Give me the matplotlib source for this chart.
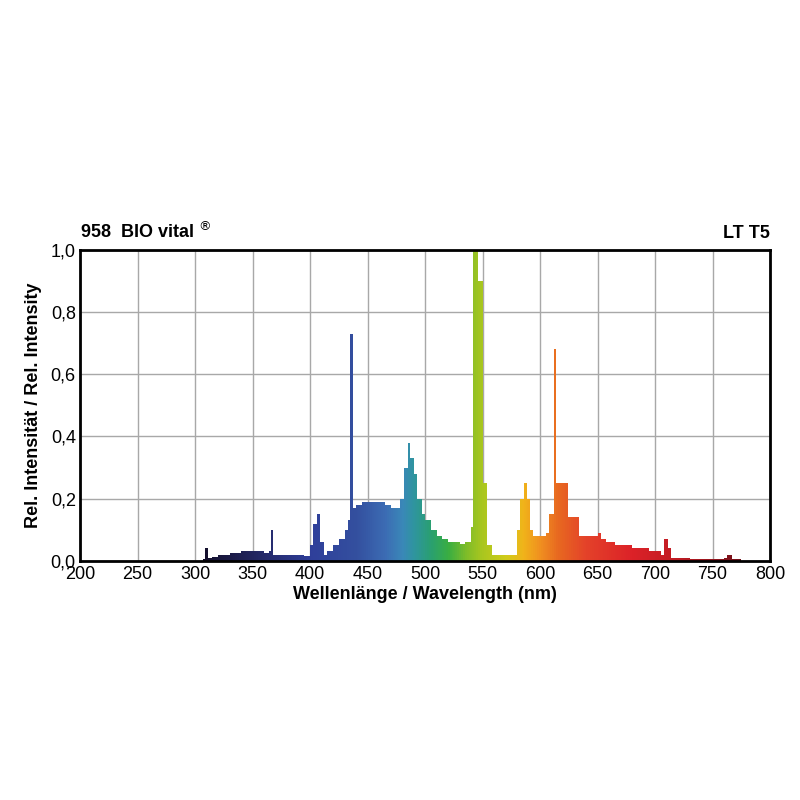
import numpy as np
import matplotlib
matplotlib.use("Agg")
import matplotlib.pyplot as plt
from matplotlib.colors import LinearSegmentedColormap

plt.rcParams["font.family"] = ["Liberation Sans", "DejaVu Sans"]

# spectrum: bin start wavelength (nm) and rel. intensity
wl = [300, 307, 309, 311, 315, 320, 330, 340, 350, 360, 364, 366, 368, 380, 395,
      400, 403, 406, 409, 412, 415, 420, 425, 430, 433, 435, 437, 440, 445, 450,
      455, 460, 465, 470, 475, 478, 482, 485, 487, 490, 493, 497, 500, 505, 510,
      515, 520, 530, 535, 540, 542, 546, 550, 554, 558, 576, 580, 583, 586, 589,
      591, 594, 600, 605, 608, 612, 614, 624, 634, 650, 653, 657, 665, 680, 695,
      705, 708, 711, 714, 730, 760, 763, 767, 775]
val = [0.0, 0.005, 0.04, 0.01, 0.012, 0.018, 0.025, 0.03, 0.03, 0.025, 0.03, 0.1,
       0.02, 0.018, 0.015, 0.05, 0.12, 0.15, 0.06, 0.02, 0.03, 0.05, 0.07, 0.1, 0.13,
       0.73, 0.17, 0.18, 0.19, 0.19, 0.19, 0.19, 0.18, 0.17, 0.17, 0.2, 0.3, 0.38,
       0.33, 0.28, 0.2, 0.15, 0.13, 0.1, 0.08, 0.07, 0.06, 0.055, 0.06, 0.11, 1.0,
       0.9, 0.25, 0.05, 0.02, 0.02, 0.1, 0.2, 0.25, 0.2, 0.1, 0.08, 0.08, 0.09, 0.15,
       0.68, 0.25, 0.14, 0.08, 0.09, 0.07, 0.06, 0.05, 0.04, 0.03, 0.02, 0.07, 0.04,
       0.01, 0.005, 0.01, 0.02, 0.005, 0.0]

x_ticks = [200, 250, 300, 350, 400, 450, 500, 550, 600, 650, 700, 750, 800]
y_ticks = [0.0, 0.2, 0.4, 0.6, 0.8, 1.0]
y_labels = ["0,0", "0,2", "0,4", "0,6", "0,8", "1,0"]

lo, hi = 305, 775
stops = [(305, "#140f2a"), (360, "#252a6a"), (400, "#2f3f9a"), (440, "#34509f"),
         (465, "#3c6cb4"), (480, "#3a88b8"), (490, "#2f959f"), (505, "#2aa070"),
         (520, "#3aae42"), (535, "#7cbc2a"), (548, "#a6c620"), (570, "#d0cc1a"),
         (585, "#f0b41a"), (600, "#f09020"), (615, "#e86a20"), (640, "#e4422a"),
         (680, "#dc2228"), (720, "#c01c24"), (775, "#701018")]
spec = LinearSegmentedColormap.from_list(
    "spec", [((w - lo) / (hi - lo), c) for w, c in stops])

fig = plt.figure(figsize=(8, 8), dpi=100)
ax = fig.add_axes([0.1, 0.299, 0.8625, 0.3885])

xs = np.repeat(wl, 2)[1:]
ys = np.repeat(val, 2)[:-1]
poly = ax.fill_between(xs, ys, 0, color="none", lw=0)
grad = np.linspace(0, 1, 512).reshape(1, -1)
im = ax.imshow(grad, cmap=spec, aspect="auto", extent=[lo, hi, 0, 1], zorder=2)
im.set_clip_path(poly.get_paths()[0], transform=ax.transData)

ax.set_xlim(200, 800)
ax.set_ylim(0, 1)
ax.set_xticks(x_ticks)
ax.set_yticks(y_ticks)
ax.set_yticklabels(y_labels)
ax.grid(color="#a8a8a8", lw=1)
ax.set_axisbelow(True)
for s in ax.spines.values():
    s.set_linewidth(2)
ax.tick_params(labelsize=13, length=0)
ax.tick_params(axis="x", pad=4)
ax.tick_params(axis="y", pad=3)
ax.set_xlabel("Wellenlänge / Wavelength (nm)", fontsize=13, fontweight="bold", labelpad=2)
ax.set_ylabel("Rel. Intensität / Rel. Intensity", fontsize=13, fontweight="bold", labelpad=6)
ax.text(0.0, 1.025, "958  BIO vital $^{®}$", transform=ax.transAxes, fontsize=13,
        fontweight="bold", ha="left", va="bottom")
ax.text(1.0, 1.025, "LT T5", transform=ax.transAxes, fontsize=13,
        fontweight="bold", ha="right", va="bottom")

fig.savefig("out.png", dpi=100)
